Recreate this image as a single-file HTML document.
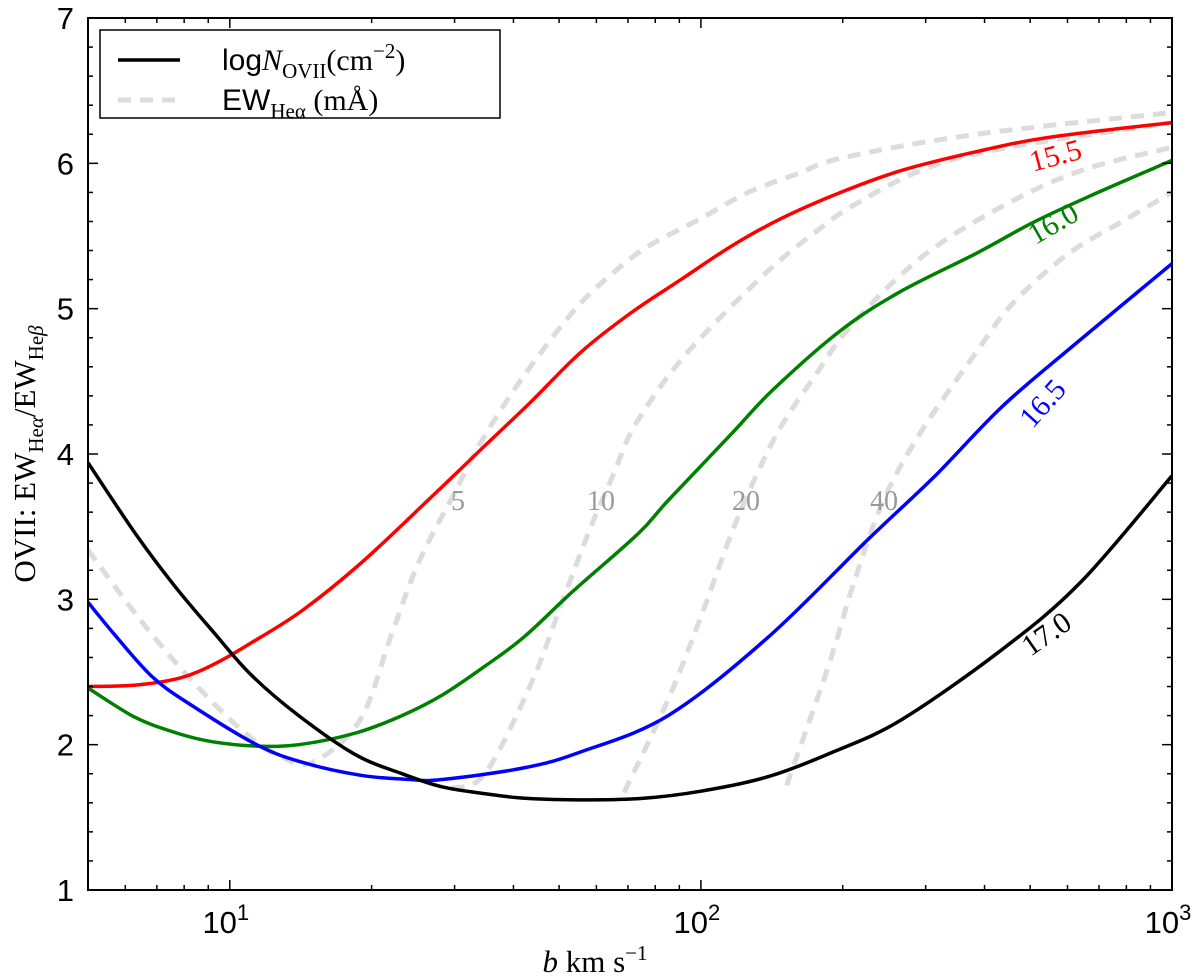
<!DOCTYPE html>
<html><head><meta charset="utf-8"><style>
html,body{margin:0;padding:0;background:#fff;}
svg{display:block;}
text{font-family:"Liberation Sans",sans-serif;}
.serif{font-family:"Liberation Serif",serif;}
</style></head><body>
<svg id="chart" width="1200" height="978" viewBox="0 0 1200 978" xmlns="http://www.w3.org/2000/svg">
<g id="plot"></g>
<g id="axes"></g>
</svg>
<script>
const redB = [5,6.31,7.87,9.34,11.1,14.2,19.0,26.7,34.1,43.6,55.6,71.0,90.7,116,148,198,266,384,551,1000];
const red155 = [2.4,2.41,2.46,2.56,2.7,2.92,3.25,3.70,4.03,4.36,4.70,4.97,5.2,5.43,5.62,5.80,5.95,6.08,6.18,6.28];
const greenB = [5,6.28,7.71,9.2,11.4,14.0,18.5,23.2,28.2,34.8,42.1,53.7,73.5,85.2,117,142,198,266,384,505,664,1000];
const green160 = [2.39,2.19,2.08,2.02,1.99,2.0,2.08,2.2,2.34,2.54,2.74,3.06,3.45,3.68,4.15,4.44,4.85,5.12,5.38,5.59,5.77,6.02];
const blueB = [5,5.65,6.83,8.3,11.4,14.2,18.9,24.1,28.2,42.1,55.6,85.2,139,226,312,434,604,1000];
const blue165 = [2.98,2.77,2.47,2.27,2.0,1.88,1.79,1.76,1.76,1.84,1.95,2.2,2.74,3.41,3.84,4.32,4.72,5.31];
const blackB = [5,6.28,7.6,9.2,11.1,14.0,18.5,23.2,28.2,35.3,42.8,56.7,75,100,139,191,266,434,641,1000];
const black170 = [3.94,3.46,3.1,2.78,2.48,2.2,1.93,1.8,1.71,1.66,1.63,1.62,1.63,1.68,1.78,1.95,2.17,2.65,3.12,3.85];
const ew5B = [5,6.38,8.15,10.6,12.8,15.0,18.9,22.1,25.3,30.2,34.1,40.1,47.3,55.6,65.3,77.3,98.6,126,161,201,384,1000];
const ew5R = [3.34,2.88,2.47,2.1,1.92,1.88,2.17,2.77,3.27,3.75,4.08,4.44,4.76,5.04,5.25,5.43,5.61,5.8,5.93,6.04,6.2,6.35];
const ew10B = [29.6,34.8,43.6,51.0,58.4,65.0,71.1,81.1,92.0,107,126,148,174,208,293,434,1000];
const ew10R = [1.70,1.8,2.42,3.0,3.5,3.85,4.15,4.44,4.67,4.9,5.13,5.34,5.52,5.7,5.95,6.1,6.28];
const ew20B = [68.7,85.2,100,116,131,148,174,208,293,434,641,1000];
const ew20R = [1.67,2.31,2.88,3.45,3.85,4.19,4.53,4.88,5.35,5.7,5.95,6.11];
const ew40B = [152,186,211,244,293,384,460,604,794,1000];
const ew40R = [1.72,2.53,3.11,3.68,4.15,4.7,5.04,5.38,5.61,5.8];
const yTicks = [1,2,3,4,5,6,7];
const xDecades = [1,2,3];

const L=88,R=1172,T=18,B=890, XMIN=Math.log10(5), XMAX=3, YMIN=1, YMAX=7;
function xs(b){return L+(Math.log10(b)-XMIN)/(XMAX-XMIN)*(R-L);}
function ys(v){return B-(v-YMIN)/(YMAX-YMIN)*(B-T);}
const NS="http://www.w3.org/2000/svg";
const plot=document.getElementById('plot'), axes=document.getElementById('axes');
function mk(tag,attrs,parent){const e=document.createElementNS(NS,tag);for(const k in attrs)e.setAttribute(k,attrs[k]);parent.appendChild(e);return e;}
function pathD(bs,rs){
  const p=bs.map((b,i)=>[xs(b),ys(rs[i])]);
  let d='M'+p[0][0].toFixed(1)+','+p[0][1].toFixed(1);
  for(let i=0;i<p.length-1;i++){
    const p0=p[Math.max(i-1,0)],p1=p[i],p2=p[i+1],p3=p[Math.min(i+2,p.length-1)];
    const c1x=p1[0]+(p2[0]-p0[0])/6,c1y=p1[1]+(p2[1]-p0[1])/6;
    const c2x=p2[0]-(p3[0]-p1[0])/6,c2y=p2[1]-(p3[1]-p1[1])/6;
    d+=' C'+c1x.toFixed(1)+','+c1y.toFixed(1)+' '+c2x.toFixed(1)+','+c2y.toFixed(1)+' '+p2[0].toFixed(1)+','+p2[1].toFixed(1);
  }
  return d;
}
const clip=mk('clipPath',{id:'pc'},plot);mk('rect',{x:L,y:T,width:R-L,height:B-T},clip);
const dashed=[[ew5B,ew5R,'ew-5'],[ew10B,ew10R,'ew-10'],[ew20B,ew20R,'ew-20'],[ew40B,ew40R,'ew-40']];
dashed.forEach(d=>{
  const p=mk('path',{d:pathD(d[0],d[1]),fill:'none',stroke:'#dcdcdc','stroke-width':5,'stroke-dasharray':'13,9','clip-path':'url(#pc)'},plot);
  
  
});
const solid=[[redB,red155,'#ff0000','logn-15.5'],[greenB,green160,'#008000','logn-16.0'],[blueB,blue165,'#0000ff','logn-16.5'],[blackB,black170,'#000000','logn-17.0']];
solid.forEach(s=>{
  const p=mk('path',{d:pathD(s[0],s[1]),fill:'none',stroke:s[2],'stroke-width':3.5,'stroke-linejoin':'round','clip-path':'url(#pc)'},plot);
  
  
});
const fr=mk('rect',{x:L,y:T,width:R-L,height:B-T,fill:'none',stroke:'#000','stroke-width':2},axes);


for(let v=1;v<=7.001;v+=0.2){
  const major=Math.abs(v-Math.round(v))<1e-6, len=major?10:5, y=ys(v);
  mk('line',{x1:L,x2:L+len,y1:y,y2:y,stroke:'#000','stroke-width':1.5},axes);
  mk('line',{x1:R,x2:R-len,y1:y,y2:y,stroke:'#000','stroke-width':1.5},axes);
}
yTicks.forEach(v=>{
  const t=mk('text',{x:L-14,y:ys(v)+11,'text-anchor':'end','font-size':31},axes);
  t.textContent=v;
  
  
});
for(let d=0;d<=3;d++){for(let m=1;m<10;m++){const b=m*Math.pow(10,d);if(b<5||b>1000)continue;
  const major=(m===1), len=major?10:5, x=xs(b);
  mk('line',{x1:x,x2:x,y1:B,y2:B-len,stroke:'#000','stroke-width':1.5},axes);
  mk('line',{x1:x,x2:x,y1:T,y2:T+len,stroke:'#000','stroke-width':1.5},axes);
}}
xDecades.forEach(d=>{
  const t=mk('text',{x:xs(Math.pow(10,d))-4,y:933,'text-anchor':'middle','font-size':31},axes);
  t.innerHTML='10<tspan dy="-13" font-size="22">'+d+'</tspan>';
  
  
});
</script>
<svg style="position:absolute;left:0;top:0" width="1200" height="978">
<text class="serif" x="595" y="972" text-anchor="middle" font-size="31"><tspan font-style="italic">b</tspan> km s<tspan dy="-12" font-size="21">−1</tspan></text>
<text class="serif" transform="translate(35,454) rotate(-90)" text-anchor="middle" font-size="31">OVII:  EW<tspan dy="8" font-size="21">He<tspan font-style="italic">α</tspan></tspan><tspan dy="-8">/EW</tspan><tspan dy="8" font-size="21">He<tspan font-style="italic">β</tspan></tspan></text>
<g fill="#999" font-size="28">
<text class="serif" x="458" y="510" text-anchor="middle">5</text>
<text class="serif" x="601" y="510" text-anchor="middle">10</text>
<text class="serif" x="746" y="510" text-anchor="middle">20</text>
<text class="serif" x="884" y="510" text-anchor="middle">40</text>
</g>
<text class="serif" font-size="30" fill="#ff0000" transform="translate(1058,165) rotate(-15)" text-anchor="middle">15.5</text>
<text class="serif" font-size="30" fill="#008000" transform="translate(1058,232) rotate(-30)" text-anchor="middle">16.0</text>
<text class="serif" font-size="30" fill="#0000ff" transform="translate(1050,410) rotate(-48)" text-anchor="middle">16.5</text>
<text class="serif" font-size="30" fill="#000" transform="translate(1052,642) rotate(-35)" text-anchor="middle">17.0</text>
<g>
<rect x="100" y="30" width="400" height="88" fill="#fff" stroke="#000" stroke-width="1.5"/>
<line x1="118" y1="60" x2="180" y2="60" stroke="#000" stroke-width="3.5"/>
<text x="222" y="70" font-size="30">log<tspan class="serif" font-style="italic" font-family="Liberation Serif">N</tspan><tspan font-family="Liberation Serif" dy="8" font-size="21">OVII</tspan><tspan font-family="Liberation Serif" dy="-8">(cm</tspan><tspan font-family="Liberation Serif" dy="-12" font-size="21">−2</tspan><tspan font-family="Liberation Serif" dy="12">)</tspan></text>
<line x1="118" y1="100" x2="180" y2="100" stroke="#dcdcdc" stroke-width="5" stroke-dasharray="13,9"/>
<text x="222" y="110" font-size="30">EW<tspan font-family="Liberation Serif" dy="8" font-size="21">Heα</tspan><tspan font-family="Liberation Serif" dy="-8"> (mÅ)</tspan></text>
</g>
</svg>
</body></html>
